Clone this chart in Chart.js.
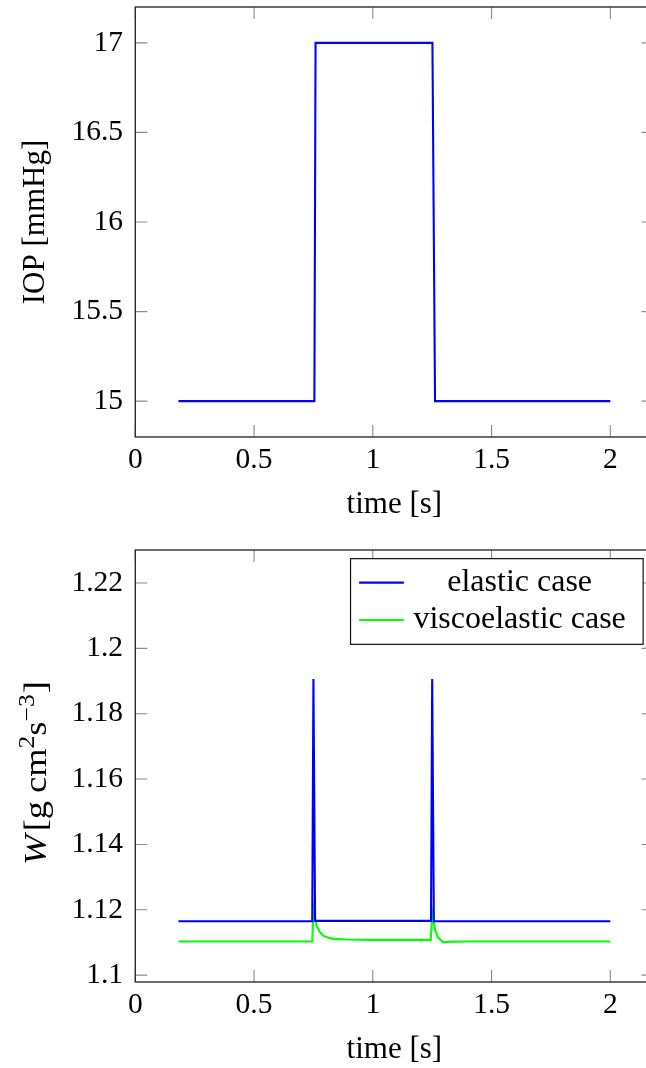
<!DOCTYPE html>
<html>
<head>
<meta charset="utf-8">
<script src="https://cdn.jsdelivr.net/npm/chart.js@4.4.0/dist/chart.umd.min.js"></script>
<style>
  html, body { margin: 0; padding: 0; background: #fff; overflow: hidden; }
  #page { position: relative; width: 646px; height: 1068px; overflow: hidden; background: #fff; }
  canvas { position: absolute; left: 0; }
  #iop { top: 0; }
  #power { top: 537px; }
</style>
</head>
<body>
<div id="page">
  <canvas id="iop" width="670" height="537"></canvas>
  <canvas id="power" width="670" height="545"></canvas>
</div>
<script>
// Intraocular pressure: 15 mmHg baseline, raised to 17 mmHg between ~0.75 s and ~1.25 s
const iopTime  = [0.1818, 0.754, 0.759, 1.251, 1.262, 2.0];
const iopValue = [15, 15, 17, 17, 15, 15];

// Power W for the elastic model
const elasticTime  = [0.1818, 0.745, 0.750, 0.757, 1.245, 1.250, 1.257, 2.0];
const elasticValue = [1.1165, 1.1165, 1.1906, 1.1166, 1.1166, 1.1906, 1.1165, 1.1165];

// Power W for the viscoelastic model
const viscoTime  = [0.1818, 0.745, 0.750, 0.763, 0.776, 0.791, 0.810, 0.833, 0.889, 1.000,
                    1.244, 1.251, 1.262, 1.275, 1.296, 1.330, 1.400, 2.000];
const viscoValue = [1.1103, 1.1103, 1.1205, 1.1152, 1.1133, 1.1121, 1.1115, 1.1111, 1.1109, 1.1108,
                    1.1108, 1.1189, 1.1140, 1.1115, 1.1101, 1.1102, 1.1103, 1.1103];

// Tick values
const timeTicks = [0, 0.5, 1, 1.5, 2];
const iopTicks  = [15, 15.5, 16, 16.5, 17];
const wTicks    = [1.1, 1.12, 1.14, 1.16, 1.18, 1.2, 1.22];

const SERIF = "'Liberation Serif', 'Times New Roman', serif";
const TICK_FONT = { family: SERIF, size: 29.5 };
const TITLE_FONT = { family: SERIF, size: 31 };
const LINE_W = 2.1;

const pairs = (xs, ys) => xs.map((x, i) => ({ x, y: ys[i] }));
const fmt = v => String(Number(Number(v).toFixed(4)));

// Full box frame with inward tick marks on all four sides
const frameTicks = {
  id: 'frameTicks',
  afterDraw(chart) {
    const { ctx, chartArea: a, scales } = chart;
    const len = 12;
    ctx.save();
    ctx.strokeStyle = '#8a8a8a';
    ctx.lineWidth = 1.1;
    ctx.beginPath();
    scales.x.ticks.forEach(t => {
      const px = scales.x.getPixelForValue(t.value);
      ctx.moveTo(px, a.bottom); ctx.lineTo(px, a.bottom - len);
      ctx.moveTo(px, a.top);    ctx.lineTo(px, a.top + len);
    });
    scales.y.ticks.forEach(t => {
      const py = scales.y.getPixelForValue(t.value);
      ctx.moveTo(a.left, py);  ctx.lineTo(a.left + len, py);
      ctx.moveTo(a.right, py); ctx.lineTo(a.right - len, py);
    });
    ctx.stroke();
    ctx.strokeStyle = '#2e2e2e';
    ctx.lineWidth = 1.4;
    ctx.strokeRect(a.left, a.top, a.right - a.left, a.bottom - a.top);
    ctx.restore();
  }
};

// Boxed legend in the upper right corner, centred label text
const boxedLegend = {
  id: 'boxedLegend',
  afterDraw(chart) {
    const { ctx, chartArea: a } = chart;
    const w = a.right - a.left, h = a.bottom - a.top;
    ctx.save();
    ctx.font = `32px ${SERIF}`;
    const labels = chart.data.datasets.map(d => d.label);
    const textW = Math.max(215, ...labels.map(t => ctx.measureText(t).width));
    const padL = 8.6, lineLen = 44.7, gap = 8.3, padR = 16;
    const boxW = padL + lineLen + gap + textW + padR;
    const boxH = 85.7;
    const right = a.right - 0.02 * w;
    const top = a.top + 0.02 * h;
    const left = right - boxW;
    ctx.fillStyle = '#fff';
    ctx.fillRect(left, top, boxW, boxH);
    ctx.strokeStyle = '#111';
    ctx.lineWidth = 1.2;
    ctx.strokeRect(left, top, boxW, boxH);
    chart.data.datasets.forEach((d, i) => {
      const y = top + 24 + i * 37.4;
      ctx.strokeStyle = d.borderColor;
      ctx.lineWidth = d.borderWidth;
      ctx.beginPath();
      ctx.moveTo(left + padL, y);
      ctx.lineTo(left + padL + lineLen, y);
      ctx.stroke();
      ctx.fillStyle = '#000';
      ctx.textAlign = 'center';
      ctx.textBaseline = 'middle';
      ctx.fillText(d.label, left + padL + lineLen + gap + textW / 2, y);
    });
    ctx.restore();
  }
};

// Y-axis title "W[g cm^2 s^-3]" with italic W and raised exponents
const powerTitle = {
  id: 'powerTitle',
  afterDraw(chart) {
    const { ctx, chartArea: a } = chart;
    const size = 32, sup = 22.5;
    const roman = `${size}px ${SERIF}`, italic = `italic ${size}px ${SERIF}`, small = `${sup}px ${SERIF}`;
    const parts = [
      { t: 'W', f: italic, dy: 0, after: 3 },
      { t: '[', f: roman, dy: 0 },
      { t: 'g', f: roman, dy: 0, after: 7 },
      { t: 'cm', f: roman, dy: 0 },
      { t: '2', f: small, dy: -12.5 },
      { t: 's', f: roman, dy: 0 },
      { t: '\u22123', f: small, dy: -12.5, after: 1 },
      { t: ']', f: roman, dy: 0 }
    ];
    const target = 184;
    ctx.save();
    let total = 0;
    parts.forEach(p => { ctx.font = p.f; p.w = ctx.measureText(p.t).width; total += p.w + (p.after || 0); });
    ctx.translate(36, (a.top + a.bottom) / 2 + 7);
    ctx.rotate(-Math.PI / 2);
    ctx.scale(target / total, 1);
    ctx.fillStyle = '#000';
    ctx.textAlign = 'left';
    ctx.textBaseline = 'alphabetic';
    let x = -total / 2;
    parts.forEach(p => {
      ctx.font = p.f;
      ctx.fillText(p.t, x, 10 + p.dy);
      x += p.w + (p.after || 0);
    });
    ctx.restore();
  }
};

function buildChart(canvas, datasets, opts) {
  return new Chart(canvas, {
    type: 'line',
    data: { datasets },
    options: {
      responsive: false,
      animation: false,
      events: [],
      layout: { autoPadding: false, padding: { top: opts.padTop, right: 16.5, bottom: 0, left: 0 } },
      plugins: { legend: { display: false }, tooltip: { enabled: false }, title: { display: false } },
      elements: { point: { radius: 0 }, line: { tension: 0 } },
      scales: {
        x: {
          type: 'linear', min: 0, max: 2.1818,
          afterBuildTicks: s => { s.ticks = timeTicks.map(v => ({ value: v })); },
          afterFit: s => { s.height = 100; s.paddingLeft = 0; s.paddingRight = 0; },
          grid: { display: false, drawTicks: false },
          border: { display: false },
          ticks: { font: TICK_FONT, color: '#000', padding: 5.5, maxRotation: 0, autoSkip: false, callback: fmt },
          title: { display: true, text: 'time [s]', font: TITLE_FONT, color: '#000', padding: { top: 0, bottom: 13.4 } }
        },
        y: {
          type: 'linear', min: opts.yMin, max: opts.yMax,
          afterBuildTicks: s => { s.ticks = opts.yTicks.map(v => ({ value: v })); },
          afterFit: s => { s.width = 135.3; s.paddingTop = 0; s.paddingBottom = 0; },
          grid: { display: false, drawTicks: false },
          border: { display: false },
          ticks: { font: TICK_FONT, color: '#000', padding: 12.3, autoSkip: false, callback: fmt },
          title: { display: !!opts.yTitle, text: opts.yTitle || '', font: TITLE_FONT, color: '#000', padding: { top: 17.4, bottom: 0 } }
        }
      }
    },
    plugins: opts.plugins
  });
}

buildChart(document.getElementById('iop'), [
  { label: 'IOP', data: pairs(iopTime, iopValue), borderColor: '#0000ff', borderWidth: LINE_W, fill: false }
], { yMin: 14.8, yMax: 17.2, yTicks: iopTicks, yTitle: 'IOP [mmHg]', padTop: 7, plugins: [frameTicks] });

buildChart(document.getElementById('power'), [
  { label: 'elastic case', data: pairs(elasticTime, elasticValue), borderColor: '#0000ff', borderWidth: LINE_W, fill: false },
  { label: 'viscoelastic case', data: pairs(viscoTime, viscoValue), borderColor: '#00ff00', borderWidth: LINE_W, fill: false }
], { yMin: 1.0979, yMax: 1.2301, yTicks: wTicks, yTitle: null, padTop: 13, plugins: [frameTicks, boxedLegend, powerTitle] });
</script>
</body>
</html>
